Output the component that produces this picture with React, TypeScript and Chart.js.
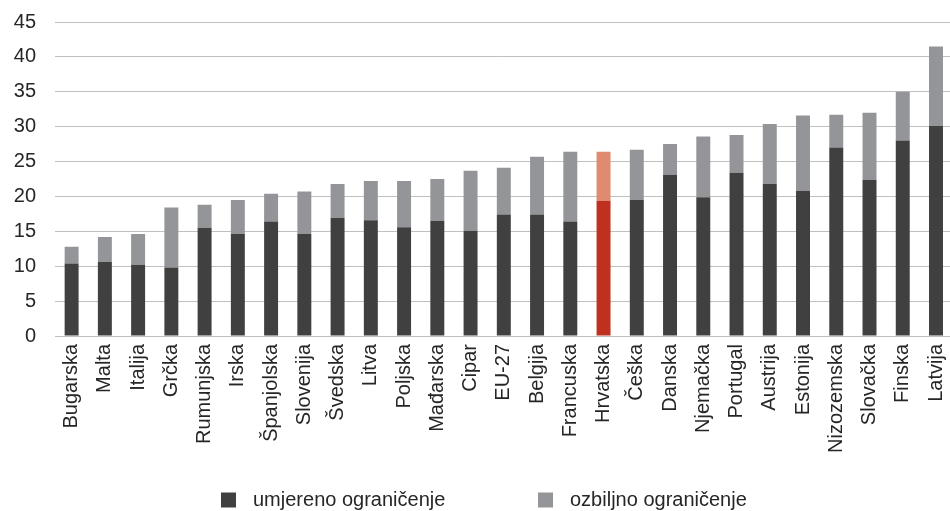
import React, { useEffect, useRef } from "react";
import { Chart, registerables } from "chart.js";

Chart.register(...registerables);

const categories = [
  "Bugarska", "Malta", "Italija", "Grčka", "Rumunjska", "Irska", "Španjolska",
  "Slovenija", "Švedska", "Litva", "Poljska", "Mađarska", "Cipar", "EU-27",
  "Belgija", "Francuska", "Hrvatska", "Češka", "Danska", "Njemačka", "Portugal",
  "Austrija", "Estonija", "Nizozemska", "Slovačka", "Finska", "Latvija",
];

const moderate = [
  10.4, 10.6, 10.2, 9.8, 15.5, 14.6, 16.4, 14.6, 16.9, 16.6, 15.6, 16.5, 15.1, 17.4,
  17.4, 16.4, 19.4, 19.5, 23.1, 19.9, 23.4, 21.8, 20.8, 27.0, 22.4, 28.0, 30.1,
];

const severe = [
  2.4, 3.6, 4.4, 8.6, 3.3, 4.9, 4.0, 6.1, 4.9, 5.6, 6.6, 6.0, 8.6, 6.7,
  8.3, 10.0, 7.0, 7.2, 4.4, 8.7, 5.4, 8.6, 10.8, 4.7, 9.6, 7.0, 11.4,
];

const seriesLabels = ["umjereno ograničenje", "ozbiljno ograničenje"];
const yTicks = [0, 5, 10, 15, 20, 25, 30, 35, 40, 45];
const highlight = "Hrvatska";

const DARK = "#404040";
const GREY = "#939598";
const RED = "#C0301F";
const LIGHTRED = "#DE8B6F";
const FONT = "'Liberation Sans', Arial, sans-serif";

const legendPlugin = {
  id: "customLegend",
  afterDraw(chart: any) {
    const ctx = chart.ctx;
    const items = [
      { x: 221, color: DARK, text: seriesLabels[0] },
      { x: 538, color: GREY, text: seriesLabels[1] },
    ];
    const y = 509;
    ctx.save();
    ctx.font = `20px ${FONT}`;
    ctx.textBaseline = "middle";
    ctx.textAlign = "left";
    items.forEach((it) => {
      ctx.fillStyle = it.color;
      ctx.fillRect(it.x, y - 7.5, 15, 15);
      ctx.fillStyle = "#262626";
      ctx.fillText(it.text, it.x + 32, y);
    });
    ctx.restore();
  },
};

export default function App() {
  const ref = useRef<HTMLCanvasElement>(null);
  useEffect(() => {
    if (!ref.current) return;
    const hi = categories.indexOf(highlight);
    const chart = new Chart(ref.current, {
      type: "bar",
      data: {
        labels: categories,
        datasets: [
          {
            label: seriesLabels[0],
            data: moderate,
            backgroundColor: categories.map((_, i) => (i === hi ? RED : DARK)),
            barPercentage: 0.42,
            categoryPercentage: 1,
          },
          {
            label: seriesLabels[1],
            data: severe,
            backgroundColor: categories.map((_, i) => (i === hi ? LIGHTRED : GREY)),
            barPercentage: 0.42,
            categoryPercentage: 1,
          },
        ],
      },
      options: {
        responsive: false,
        animation: false,
        layout: { padding: { top: 3, left: 0, right: 0, bottom: 0 } },
        plugins: {
          legend: { display: false },
          tooltip: { enabled: false },
        },
        scales: {
          x: {
            stacked: true,
            grid: { display: false, drawTicks: false },
            border: { display: false },
            ticks: {
              minRotation: 90,
              maxRotation: 90,
              autoSkip: false,
              padding: 8,
              color: "#262626",
              font: { size: 20, family: FONT },
            },
            afterFit(scale: any) {
              scale.height = 175;
            },
          },
          y: {
            stacked: true,
            min: 0,
            max: 45,
            afterBuildTicks(scale: any) {
              scale.ticks = yTicks.map((v) => ({ value: v }));
            },
            grid: { color: "#c0c0c0", lineWidth: 1, drawTicks: false },
            border: { display: false },
            ticks: {
              padding: 19,
              color: "#262626",
              font: { size: 20, family: FONT },
            },
            afterFit(scale: any) {
              scale.width = 55;
            },
          },
        },
      },
      plugins: [legendPlugin],
    });
    return () => chart.destroy();
  }, []);
  return (
    <div style={{ position: "fixed", left: 0, top: 0, width: 950, height: 511, overflow: "hidden", background: "#fff" }}>
      <canvas ref={ref} width={968} height={520} style={{ display: "block", marginTop: -9 }} />
    </div>
  );
}
